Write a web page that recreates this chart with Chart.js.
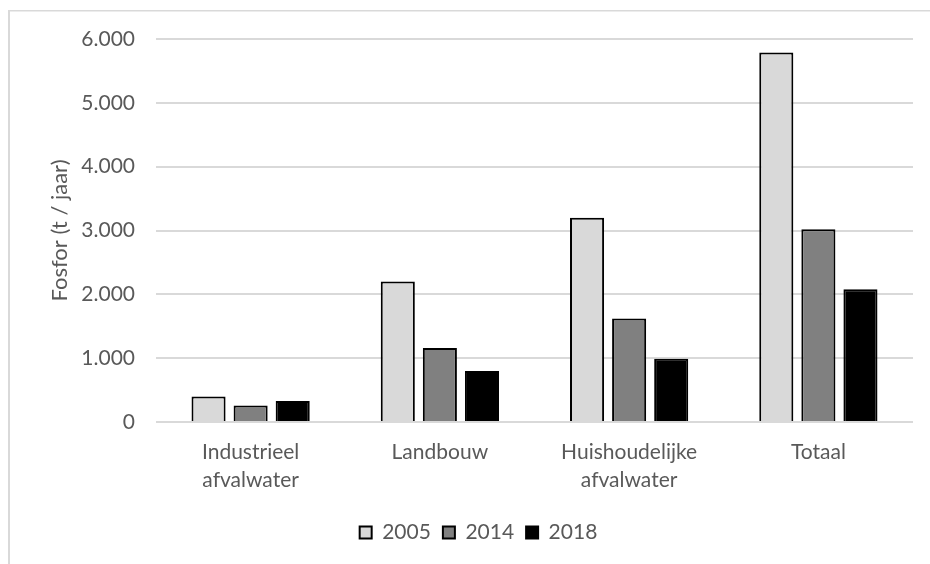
<!DOCTYPE html>
<html>
<head>
<meta charset="utf-8">
<script src="https://cdn.jsdelivr.net/npm/chart.js@4/dist/chart.umd.min.js"></script>
<style>
  html, body { margin: 0; padding: 0; background: #fff; }
  #wrap { position: relative; width: 930px; height: 564px; }
</style>
</head>
<body>
<div id="wrap"><canvas id="c" width="930" height="564"></canvas></div>
<script>
// Fosforemissie per bron (ton per jaar)
const categories = [["Industrieel", "afvalwater"], "Landbouw", ["Huishoudelijke", "afvalwater"], "Totaal"];
const years = ["2005", "2014", "2018"];
const values2005 = [400, 2200, 3200, 5790];
const values2014 = [260, 1160, 1620, 3020];
const values2018 = [330, 800, 990, 2080];
const yTicks = [0, 1000, 2000, 3000, 4000, 5000, 6000];

const fills = ["#d9d9d9", "#808080", "#000000"];
const series = [values2005, values2014, values2018];

const FONT = "Lato, 'Open Sans', sans-serif";
const TEXT = "#595959";

// light frame around the chart object
const framePlugin = {
  id: "frame",
  beforeDraw(chart) {
    const ctx = chart.ctx;
    ctx.save();
    ctx.fillStyle = "#d9d9d9";
    ctx.fillRect(8, 10, 2, chart.height);
    ctx.fillRect(8, 10, chart.width, 1.5);
    ctx.restore();
  }
};

const nf = new Intl.NumberFormat("nl-NL");

new Chart(document.getElementById("c"), {
  type: "bar",
  data: {
    labels: categories,
    datasets: years.map((y, i) => ({
      label: y,
      data: series[i],
      backgroundColor: fills[i],
      borderColor: "#000000",
      borderWidth: 2,
      categoryPercentage: 0.667,
      barPercentage: 0.81
    }))
  },
  plugins: [framePlugin],
  options: {
    responsive: false,
    animation: false,
    layout: { padding: { left: 44, right: 17, top: 39, bottom: 11 } },
    plugins: {
      tooltip: { enabled: false },
      legend: {
        position: "bottom",
        labels: {
          color: TEXT,
          font: { family: FONT, size: 21 },
          boxWidth: 12,
          boxHeight: 12,
          padding: 12
        }
      }
    },
    scales: {
      x: {
        grid: { display: false },
        border: { display: false },
        ticks: {
          color: TEXT,
          font: { family: FONT, size: 21, lineHeight: 1.3 },
          padding: 9,
          maxRotation: 0,
          autoSkip: false
        },
        afterFit(scale) { scale.height = 88; }
      },
      y: {
        min: 0,
        max: 6000,
        afterBuildTicks(scale) { scale.ticks = yTicks.map(v => ({ value: v })); },
        grid: { color: "#d9d9d9", lineWidth: 2, drawTicks: false },
        border: { display: false },
        ticks: {
          color: TEXT,
          font: { family: FONT, size: 21 },
          padding: 21,
          callback: v => nf.format(v)
        },
        title: {
          display: true,
          text: "Fosfor (t / jaar)",
          color: TEXT,
          font: { family: FONT, size: 22 },
          padding: { top: 3, bottom: 4 }
        },
        afterFit(scale) { scale.width = 156 - 44; }
      }
    }
  }
});
</script>
</body>
</html>
